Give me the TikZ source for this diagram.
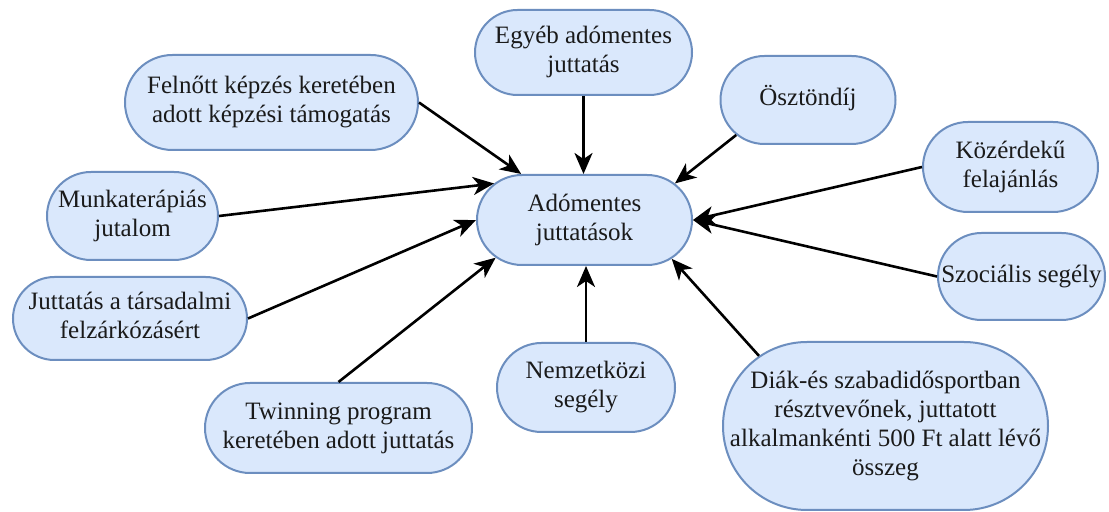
\documentclass[tikz,border=0pt]{standalone}
\usepackage{fontspec}
\setmainfont{Liberation Serif}
\usetikzlibrary{shapes.misc,arrows.meta}
\definecolor{boxfill}{HTML}{DAE8FC}
\definecolor{boxline}{HTML}{6C8EBF}
\definecolor{txtcol}{HTML}{1A1A1A}
\newcommand{\boxtxt}[1]{\makebox[0pt]{\begin{tabular}{@{}c@{}}#1\end{tabular}}}
\begin{document}
\begin{tikzpicture}[x=0.5pt,y=-0.5pt,
  box/.style={rounded rectangle, draw=boxline, fill=boxfill, line width=1pt,
    inner sep=0pt, text=txtcol, font=\fontsize{12.5}{14.5}\selectfont},
  conn/.style={line width=1.3pt, -{Stealth[length=10.5pt,width=9pt,inset=3pt]}}]
\useasboundingbox (0,0) rectangle (1109,512);
\fill[white] (0,0) rectangle (1109,512);

\node[box, minimum width=107.5pt, minimum height=45pt] (C) at (584.5,220) {\boxtxt{Adómentes\\juttatások}};
\node[box, minimum width=108.5pt, minimum height=42.5pt] (E) at (583.5,52.5) {\boxtxt{Egyéb adómentes\\juttatás}};
\node[box, minimum width=146.5pt, minimum height=47.5pt] (F) at (271.5,102.5) {\boxtxt{Felnőtt képzés keretében\\adott képzési támogatás}};
\node[box, minimum width=87.5pt, minimum height=44pt] (O) at (808,100) {\boxtxt{Ösztöndíj}};
\node[box, minimum width=87.5pt, minimum height=45pt] (K) at (1010.5,167) {\boxtxt{Közérdekű\\felajánlás}};
\node[box, minimum width=83.5pt, minimum height=43.5pt] (S) at (1021.5,276.5) {\boxtxt{Szociális segély}};
\node[box, minimum width=85.5pt, minimum height=44pt] (M) at (132.5,216) {\boxtxt{Munkaterápiás\\jutalom}};
\node[box, minimum width=117pt, minimum height=41.5pt] (J) at (130,318.5) {\boxtxt{Juttatás a társadalmi\\felzárkózásért}};
\node[box, minimum width=133.5pt, minimum height=45pt] (T) at (338.5,428) {\boxtxt{Twinning program\\keretében adott juttatás}};
\node[box, minimum width=89pt, minimum height=44.5pt] (N) at (586,387.5) {\boxtxt{Nemzetközi\\segély}};
\node[box, minimum width=162.5pt, minimum height=84pt] (D) at (885.5,426) {\boxtxt{Diák-és szabadidősportban\\résztvevőnek, juttatott\\alkalmankénti 500 Ft alatt lévő\\összeg}};

\draw[conn] (E.south) -- (E.south |- C.north);
\draw[conn] (F.east) -- (C.144);
\draw[conn] (O.206.6) -- (C.22.7);
\draw[conn] (K.west) -- (C.east);
\draw[conn] (S.west) -- (C.east);
\draw[conn] (M.east) -- (C.158);
\draw[conn] (J.east) -- (C.west);
\draw[conn] (T.north) -- (C.203.6);
\draw[conn] (N.north) -- (N.north |- C.south);
\draw[conn] (D.151.8) -- (C.336.8);
\end{tikzpicture}
\end{document}
